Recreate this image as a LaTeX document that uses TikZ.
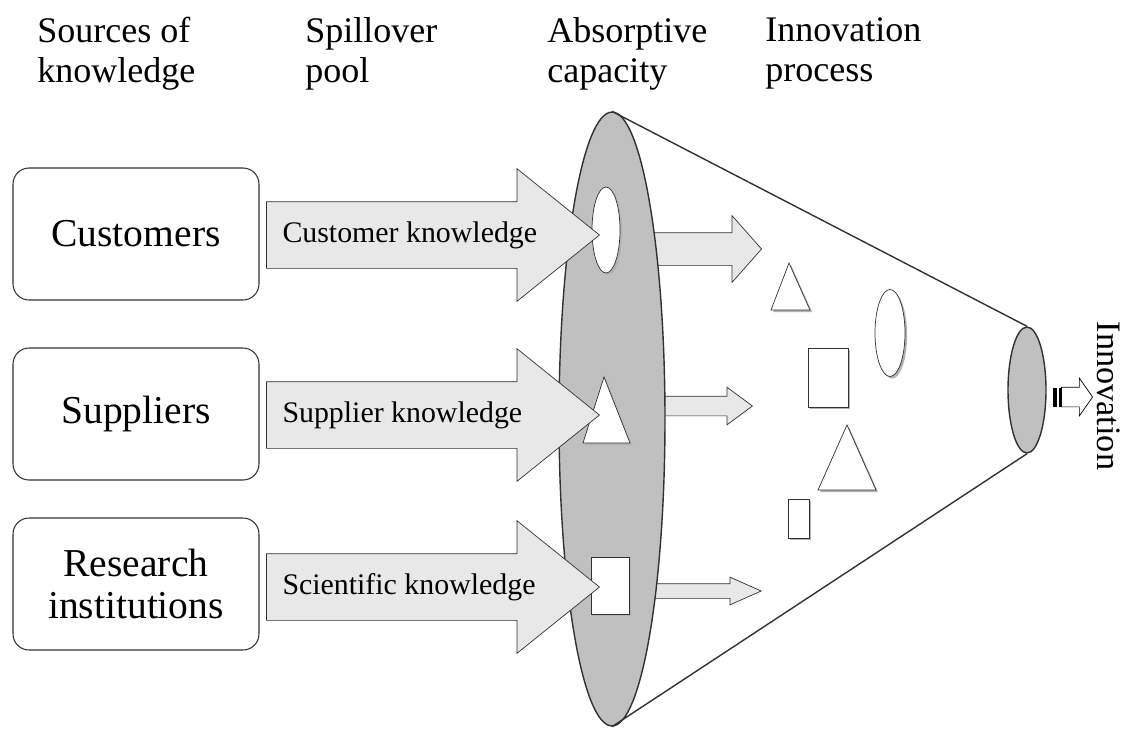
\documentclass[tikz,border=0pt]{standalone}
\usepackage{fontspec}
\setmainfont{Liberation Serif}
\usetikzlibrary{shapes.geometric,shapes.arrows,shadows}
\definecolor{capgrey}{RGB}{192,192,192}
\definecolor{arrowgrey}{RGB}{232,232,232}
\definecolor{linegrey}{RGB}{50,50,50}

\begin{document}
\begin{tikzpicture}[x=0.02cm,y=-0.02cm,
  srcbox/.style={draw=linegrey,semithick,rounded corners=0.32cm,minimum width=4.92cm,minimum height=2.64cm,
    align=center,font=\fontsize{22.5}{24}\selectfont},
  bigarrow/.style={single arrow,draw=linegrey,fill=arrowgrey,anchor=tip,inner xsep=0pt,inner ysep=0.66cm,
    minimum height=6.66cm,single arrow head extend=0.66cm,single arrow tip angle=77.6},
  smallarrow/.style={single arrow,draw=linegrey,fill=arrowgrey,anchor=tip,inner xsep=0pt},
  hole/.style={draw=linegrey,fill=white,drop shadow={shadow xshift=1.2pt,shadow yshift=-1.2pt,fill=gray!60,opacity=1}},
  header/.style={anchor=north west,align=left,inner sep=0pt,font=\fontsize{20.5}{22.7}\selectfont},
  flowtext/.style={anchor=west,inner sep=0pt,font=\fontsize{17}{20}\selectfont}]
\useasboundingbox (0,0) rectangle (1126,728);
%Headers
\node[header] (hsrc) at (37,17) {Sources of\\knowledge};
\node[header] (hpool) at (305,17) {Spillover\\pool};
\node[header] (habs) at (547,17) {Absorptive\\capacity};
\node[header] (hproc) at (765,17) {Innovation\\process};
%Sources
\node[srcbox] (cust) at (136,234) {Customers};
\node[srcbox] (supp) at (136,414) {Suppliers};
\node[srcbox] (inst) at (136,584) {Research\\institutions};
%Arrows into the process (behind the capacity)
\node[smallarrow,minimum height=2.44cm,inner ysep=0.32cm,single arrow head extend=0.34cm,single arrow tip angle=97] (cin) at (762,249) {};
\node[smallarrow,minimum height=2.26cm,inner ysep=0.19cm,single arrow head extend=0.18cm,single arrow tip angle=73] (sin) at (753,406) {};
\node[smallarrow,minimum height=2.44cm,inner ysep=0.14cm,single arrow head extend=0.13cm,single arrow tip angle=48] (rin) at (762,591) {};
%Absorptive capacity and the cone
\node[ellipse,draw=linegrey,thick,fill=capgrey,minimum width=2.12cm,minimum height=12.28cm,inner sep=0pt] (cap) at (612,419) {};
\node[ellipse,draw=linegrey,thick,fill=capgrey,minimum width=0.76cm,minimum height=2.52cm,inner sep=0pt] (out) at (1027,390) {};
\draw[linegrey,thick] (cap.north) -- (out.north);
\draw[linegrey,thick] (cap.south) -- (out.south);
%Holes in the capacity
\node[ellipse,hole,minimum width=0.56cm,minimum height=1.72cm,inner sep=0pt] (hcust) at (606,230) {};
\filldraw[hole] (604,377) -- (630,443) -- (583,443) -- cycle;
\filldraw[hole] (591,557) rectangle (629,614);
%Ideas inside the cone
\filldraw[hole] (789,263) -- (810,310) -- (771,310) -- cycle;
\node[ellipse,hole,minimum width=0.6cm,minimum height=1.74cm,inner sep=0pt] (idea) at (890,333) {};
\filldraw[hole] (808,348) rectangle (848,407);
\filldraw[hole] (847,425) -- (876,490) -- (818,490) -- cycle;
\filldraw[hole] (788,499) rectangle (809,538);
%Spillover arrows
\node[bigarrow] (cflow) at (600,235) {};
\node[bigarrow] (sflow) at (600,415) {};
\node[bigarrow] (rflow) at (600,587) {};
\node[flowtext] (ctext) at ([xshift=0.32cm]cflow.tail) {Customer knowledge};
\node[flowtext] (stext) at ([xshift=0.32cm]sflow.tail) {Supplier knowledge};
\node[flowtext] (rtext) at ([xshift=0.32cm]rflow.tail) {Scientific knowledge};
%Innovation
\node[single arrow,draw=black,fill=white,anchor=tip,inner xsep=0pt,inner ysep=0.19cm,minimum height=0.62cm,
  single arrow head extend=0.18cm,single arrow tip angle=110] (inno) at (1093,397) {};
\fill (1053,388) rectangle (1057,407);
\fill (1059,388) rectangle (1060.5,407);
\node[rotate=-90,font=\fontsize{19.5}{20}\selectfont] (ilabel) at (1109,396) {Innovation};
\end{tikzpicture}
\end{document}
